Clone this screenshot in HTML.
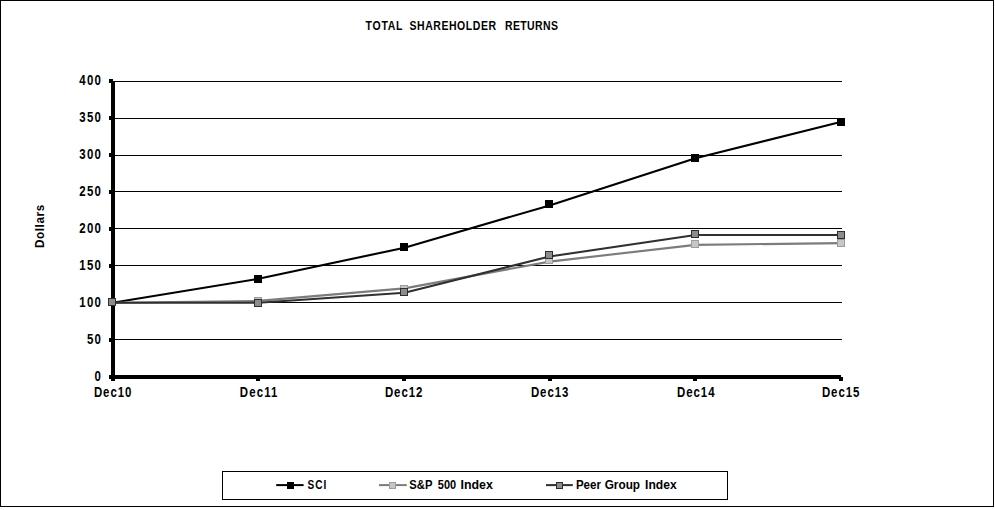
<!DOCTYPE html>
<html lang="en"><head><meta charset="utf-8"><title>Total Shareholder Returns</title>
<style>
html,body{margin:0;padding:0;background:#fff;}
body{width:995px;height:510px;overflow:hidden;}
svg{display:block;}
text{font-family:"Liberation Sans", Arial, Helvetica, sans-serif;font-weight:bold;fill:#000;}
.ax{font-size:13px;}
.lg{font-size:12px;}
.tt{font-size:12.5px;}
</style></head><body>
<svg width="995" height="510" viewBox="0 0 995 510">
<rect x="0" y="0" width="995" height="510" fill="#fff"/>
<g shape-rendering="crispEdges" fill="#000">
<rect x="0" y="0" width="994" height="1"/>
<rect x="0" y="506" width="994" height="1"/>
<rect x="0" y="0" width="1" height="507"/>
<rect x="993" y="0" width="1" height="507"/>
<rect x="113" y="81" width="729" height="1"/>
<rect x="113" y="118" width="729" height="1"/>
<rect x="113" y="155" width="729" height="1"/>
<rect x="113" y="191" width="729" height="1"/>
<rect x="113" y="228" width="729" height="1"/>
<rect x="113" y="265" width="729" height="1"/>
<rect x="113" y="302" width="729" height="1"/>
<rect x="113" y="339" width="729" height="1"/>
<rect x="111" y="81" width="4" height="298"/>
<rect x="109" y="375" width="732" height="4"/>
<rect x="109" y="79" width="4" height="4"/>
<rect x="109" y="116" width="4" height="4"/>
<rect x="109" y="153" width="4" height="4"/>
<rect x="109" y="190" width="4" height="4"/>
<rect x="109" y="227" width="4" height="4"/>
<rect x="109" y="264" width="4" height="4"/>
<rect x="109" y="301" width="4" height="4"/>
<rect x="109" y="338" width="4" height="4"/>
<rect x="109" y="375" width="4" height="4"/>
<rect x="111" y="377" width="4" height="4"/>
<rect x="256" y="377" width="4" height="4"/>
<rect x="402" y="377" width="4" height="4"/>
<rect x="548" y="377" width="4" height="4"/>
<rect x="693" y="377" width="4" height="4"/>
<rect x="839" y="377" width="4" height="4"/>
</g>
<text class="ax" transform="translate(79.30,84.70) scale(0.880,1.120)" textLength="24.5" lengthAdjust="spacing">400</text>
<text class="ax" transform="translate(79.30,121.70) scale(0.880,1.120)" textLength="24.5" lengthAdjust="spacing">350</text>
<text class="ax" transform="translate(79.30,158.70) scale(0.880,1.120)" textLength="24.5" lengthAdjust="spacing">300</text>
<text class="ax" transform="translate(79.30,195.70) scale(0.880,1.120)" textLength="24.5" lengthAdjust="spacing">250</text>
<text class="ax" transform="translate(79.30,232.70) scale(0.880,1.120)" textLength="24.5" lengthAdjust="spacing">200</text>
<text class="ax" transform="translate(79.30,269.70) scale(0.880,1.120)" textLength="24.5" lengthAdjust="spacing">150</text>
<text class="ax" transform="translate(79.30,306.70) scale(0.880,1.120)" textLength="24.5" lengthAdjust="spacing">100</text>
<text class="ax" transform="translate(86.90,343.70) scale(0.880,1.120)" textLength="15.9" lengthAdjust="spacing">50</text>
<text class="ax" transform="translate(94.50,380.70) scale(0.880,1.120)" textLength="7.3" lengthAdjust="spacing">0</text>
<text class="ax" transform="translate(93.90,397.00) scale(0.880,1.120)" textLength="42.7" lengthAdjust="spacing">Dec10</text>
<text class="ax" transform="translate(239.85,397.00) scale(0.880,1.120)" textLength="42.7" lengthAdjust="spacing">Dec11</text>
<text class="ax" transform="translate(384.90,397.00) scale(0.880,1.120)" textLength="42.7" lengthAdjust="spacing">Dec12</text>
<text class="ax" transform="translate(530.90,397.00) scale(0.880,1.120)" textLength="42.7" lengthAdjust="spacing">Dec13</text>
<text class="ax" transform="translate(676.95,397.00) scale(0.880,1.120)" textLength="42.7" lengthAdjust="spacing">Dec14</text>
<text class="ax" transform="translate(821.90,397.00) scale(0.880,1.120)" textLength="42.7" lengthAdjust="spacing">Dec15</text>
<text class="ax" transform="translate(44.20,248.10) rotate(-90) scale(0.900,1.050)" textLength="48.2" lengthAdjust="spacing">Dollars</text>
<text class="tt" transform="translate(365.60,29.90) scale(0.840,1.050)"><tspan x="0.00" textLength="43.9" lengthAdjust="spacing">TOTAL</tspan> <tspan x="52.26" textLength="103.0" lengthAdjust="spacing">SHAREHOLDER</tspan> <tspan x="165.95" textLength="63.1" lengthAdjust="spacing">RETURNS</tspan></text>
<polyline points="112.5,302.70 258.5,278.80 404.5,247.70 549.5,205.40 695.5,158.20 841.5,121.85" fill="none" stroke="#000" stroke-width="2.1" stroke-linejoin="round"/>
<rect x="108.5" y="298.5" width="7" height="7" fill="#000" stroke="#000" stroke-width="1" shape-rendering="crispEdges"/>
<rect x="254.5" y="275.5" width="7" height="7" fill="#000" stroke="#000" stroke-width="1" shape-rendering="crispEdges"/>
<rect x="400.5" y="243.5" width="7" height="7" fill="#000" stroke="#000" stroke-width="1" shape-rendering="crispEdges"/>
<rect x="545.5" y="200.5" width="7" height="7" fill="#000" stroke="#000" stroke-width="1" shape-rendering="crispEdges"/>
<rect x="691.5" y="154.5" width="7" height="7" fill="#000" stroke="#000" stroke-width="1" shape-rendering="crispEdges"/>
<rect x="837.5" y="118.5" width="7" height="7" fill="#000" stroke="#000" stroke-width="1" shape-rendering="crispEdges"/>
<polyline points="112.5,302.70 258.5,300.90 404.5,288.40 549.5,261.60 695.5,244.85 841.5,243.15" fill="none" stroke="#7c7c7c" stroke-width="2.1" stroke-linejoin="round"/>
<rect x="108.5" y="298.5" width="7" height="7" fill="#c6c6c6" stroke="#9c9c9c" stroke-width="1" shape-rendering="crispEdges"/>
<rect x="254.5" y="297.5" width="7" height="7" fill="#c6c6c6" stroke="#9c9c9c" stroke-width="1" shape-rendering="crispEdges"/>
<rect x="400.5" y="285.5" width="7" height="7" fill="#c6c6c6" stroke="#9c9c9c" stroke-width="1" shape-rendering="crispEdges"/>
<rect x="545.5" y="256.5" width="7" height="7" fill="#c6c6c6" stroke="#9c9c9c" stroke-width="1" shape-rendering="crispEdges"/>
<rect x="691.5" y="240.5" width="7" height="7" fill="#c6c6c6" stroke="#9c9c9c" stroke-width="1" shape-rendering="crispEdges"/>
<rect x="837.5" y="239.5" width="7" height="7" fill="#c6c6c6" stroke="#9c9c9c" stroke-width="1" shape-rendering="crispEdges"/>
<polyline points="112.5,302.70 258.5,302.80 404.5,292.70 549.5,256.50 695.5,235.00 841.5,235.00" fill="none" stroke="#303030" stroke-width="2.1" stroke-linejoin="round"/>
<rect x="108.5" y="298.5" width="7" height="7" fill="#8c8c8c" stroke="#2e2e2e" stroke-width="1" shape-rendering="crispEdges"/>
<rect x="254.5" y="299.5" width="7" height="7" fill="#8c8c8c" stroke="#2e2e2e" stroke-width="1" shape-rendering="crispEdges"/>
<rect x="400.5" y="288.5" width="7" height="7" fill="#8c8c8c" stroke="#2e2e2e" stroke-width="1" shape-rendering="crispEdges"/>
<rect x="545.5" y="251.5" width="7" height="7" fill="#8c8c8c" stroke="#2e2e2e" stroke-width="1" shape-rendering="crispEdges"/>
<rect x="691.5" y="230.5" width="7" height="7" fill="#8c8c8c" stroke="#2e2e2e" stroke-width="1" shape-rendering="crispEdges"/>
<rect x="837.5" y="231.5" width="7" height="7" fill="#8c8c8c" stroke="#2e2e2e" stroke-width="1" shape-rendering="crispEdges"/>
<rect x="222.5" y="471.5" width="505" height="28" fill="#fff" stroke="#000" stroke-width="1" shape-rendering="crispEdges"/>
<line x1="276.2" y1="485.1" x2="303.6" y2="485.1" stroke="#000" stroke-width="2"/>
<rect x="287.5" y="482.5" width="6" height="6" fill="#000" stroke="#000" stroke-width="1" shape-rendering="crispEdges"/>
<line x1="379.0" y1="485.1" x2="406.8" y2="485.1" stroke="#7c7c7c" stroke-width="2"/>
<rect x="389.5" y="482.5" width="6" height="6" fill="#c6c6c6" stroke="#9c9c9c" stroke-width="1" shape-rendering="crispEdges"/>
<line x1="546.0" y1="485.1" x2="572.8" y2="485.1" stroke="#303030" stroke-width="2"/>
<rect x="556.5" y="482.5" width="6" height="6" fill="#8c8c8c" stroke="#2e2e2e" stroke-width="1" shape-rendering="crispEdges"/>
<text class="lg" transform="translate(307.40,488.80) scale(0.840,1.050)"><tspan x="0.00" textLength="22.4" lengthAdjust="spacing">SCI</tspan></text>
<text class="lg" transform="translate(409.30,488.80) scale(1.000,1.050)"><tspan x="0.00" textLength="23.1" lengthAdjust="spacingAndGlyphs">S&amp;P</tspan> <tspan x="28.50" textLength="18.3" lengthAdjust="spacingAndGlyphs">500</tspan> <tspan x="51.20" textLength="32.4" lengthAdjust="spacingAndGlyphs">Index</tspan></text>
<text class="lg" transform="translate(575.90,488.80) scale(1.000,1.050)"><tspan x="0.00" textLength="25.0" lengthAdjust="spacingAndGlyphs">Peer</tspan> <tspan x="28.80" textLength="35.4" lengthAdjust="spacingAndGlyphs">Group</tspan> <tspan x="69.20" textLength="31.6" lengthAdjust="spacingAndGlyphs">Index</tspan></text>
</svg>
</body></html>
